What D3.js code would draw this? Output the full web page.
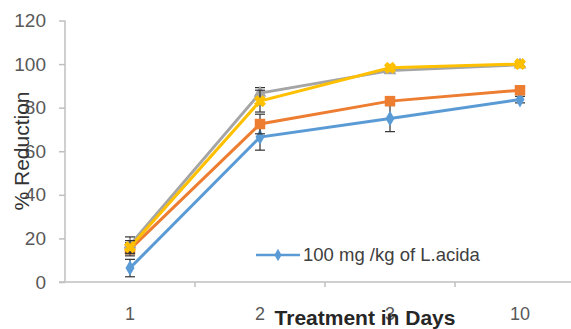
<!DOCTYPE html>
<html>
  <head>
    <meta charset="UTF-8" />
    <script src="https://d3js.org/d3.v7.min.js"></script>
    <style>
      body { margin: 0; background: #fff; }
    </style>
  </head>
  <body>
    <div id="chart"></div>
    <script>
      // data
      var days = ["1", "2", "3", "10"];
      var seriesNames = ["100 mg /kg of L.acida", "200 mg /kg of L.acida", "400 mg /kg of L.acida", "Standard"];
      var blueValues = [6.4, 66.5, 75, 83.7];
      var blueErrors = [4, 6, 6, 1.5];
      var orangeValues = [15, 72.5, 83, 88];
      var orangeErrors = [3, 4.5, 1, 1];
      var grayValues = [17, 86.7, 97, 99.7];
      var grayErrors = [3.7, 2.5, 1, 1];
      var yellowValues = [16, 83, 98.3, 100];
      var yellowErrors = [3, 5, 1, 1];
      var yTicks = [0, 20, 40, 60, 80, 100, 120];

      var width = 571, height = 329;
      var colors = ["#5b9bd5", "#ed7d31", "#a5a5a5", "#ffc000"];
      var shapes = [d3.symbolDiamond, d3.symbolSquare, d3.symbolTriangle, d3.symbolCross];

      var series = [
        { name: seriesNames[0], values: blueValues, errors: blueErrors },
        { name: seriesNames[1], values: orangeValues, errors: orangeErrors },
        { name: seriesNames[2], values: grayValues, errors: grayErrors },
        { name: seriesNames[3], values: yellowValues, errors: yellowErrors }
      ];

      var svg = d3.select("#chart")
        .append("svg")
        .attr("width", width)
        .attr("height", height)
        .style("font-family", "'Liberation Sans', Arial, sans-serif");

      var x = d3.scaleBand()
        .domain(days)
        .range([65, 585]);

      var y = d3.scaleLinear()
        .domain([0, 120])
        .range([282, 20.5]);

      // y axis
      var yAxis = svg.append("g")
        .attr("transform", "translate(65,0)")
        .call(d3.axisLeft(y).tickValues(yTicks).tickSize(6).tickPadding(13));
      yAxis.selectAll("line, path").attr("stroke", "#bfbfbf").attr("stroke-width", 1.5);
      yAxis.select(".domain").attr("d", "M0," + y(120) + "V" + y(0));
      yAxis.selectAll("text")
        .attr("fill", "#595959")
        .style("font-size", "19px");

      // x axis: ticks sit on category boundaries
      var xAxis = svg.append("g")
        .attr("transform", "translate(0," + y(0) + ")");
      xAxis.append("line")
        .attr("x1", 59).attr("x2", width)
        .attr("stroke", "#bfbfbf").attr("stroke-width", 1.5);
      xAxis.selectAll(".xtick")
        .data(days.slice(1))
        .enter()
        .append("line")
        .attr("x1", function(d) { return x(d); })
        .attr("x2", function(d) { return x(d); })
        .attr("y1", 0).attr("y2", 5)
        .attr("stroke", "#bfbfbf").attr("stroke-width", 1.5);
      xAxis.selectAll(".xlabel")
        .data(days)
        .enter()
        .append("text")
        .attr("x", function(d) { return x(d) + x.bandwidth() / 2; })
        .attr("y", 38)
        .attr("text-anchor", "middle")
        .attr("fill", "#595959")
        .style("font-size", "18px")
        .text(function(d) { return d; });

      var line = d3.line()
        .x(function(d, i) { return x(days[i]) + x.bandwidth() / 2; })
        .y(function(d) { return y(d); });

      series.forEach(function(s, k) {
        var g = svg.append("g");

        g.append("path")
          .datum(s.values)
          .attr("d", line)
          .attr("fill", "none")
          .attr("stroke", colors[k])
          .attr("stroke-width", 3);

        // error bars
        var eb = g.selectAll(".err")
          .data(s.values)
          .enter()
          .append("g")
          .attr("transform", function(d, i) {
            return "translate(" + (x(days[i]) + x.bandwidth() / 2) + ",0)";
          });
        eb.append("line")
          .attr("y1", function(d, i) { return y(d - s.errors[i]); })
          .attr("y2", function(d, i) { return y(d + s.errors[i]); })
          .attr("stroke", "#333").attr("stroke-width", 1.2);
        eb.append("line")
          .attr("x1", -5).attr("x2", 5)
          .attr("y1", function(d, i) { return y(d - s.errors[i]); })
          .attr("y2", function(d, i) { return y(d - s.errors[i]); })
          .attr("stroke", "#333").attr("stroke-width", 1.2);
        eb.append("line")
          .attr("x1", -5).attr("x2", 5)
          .attr("y1", function(d, i) { return y(d + s.errors[i]); })
          .attr("y2", function(d, i) { return y(d + s.errors[i]); })
          .attr("stroke", "#333").attr("stroke-width", 1.2);

        // markers
        g.selectAll(".mark")
          .data(s.values)
          .enter()
          .append("path")
          .attr("transform", function(d, i) {
            var r = k == 3 ? 45 : 0;
            return "translate(" + (x(days[i]) + x.bandwidth() / 2) + "," + y(d) + ")rotate(" + r + ")";
          })
          .attr("d", d3.symbol().type(shapes[k]).size(k == 1 ? 110 : 70))
          .attr("fill", colors[k])
          .attr("stroke", k == 3 ? colors[k] : "none");
      });

      // legend (only the first entry shows in the picture)
      var legend = svg.append("g")
        .attr("transform", "translate(256,255)");
      legend.append("line")
        .attr("x1", 0).attr("x2", 44)
        .attr("stroke", colors[0]).attr("stroke-width", 2.5);
      legend.append("path")
        .attr("transform", "translate(22,0)")
        .attr("d", d3.symbol().type(d3.symbolDiamond).size(45))
        .attr("fill", colors[0]);
      legend.append("text")
        .attr("x", 47)
        .attr("y", 6)
        .attr("fill", "#404040")
        .style("font-size", "18.5px")
        .text(series[0].name);

      // axis titles
      svg.append("text")
        .attr("transform", "translate(29,151)rotate(-90)")
        .attr("text-anchor", "middle")
        .attr("fill", "#333")
        .style("font-size", "21px")
        .text("% Reduction");

      svg.append("text")
        .attr("x", 365)
        .attr("y", 325)
        .attr("text-anchor", "middle")
        .attr("fill", "#262626")
        .style("font-size", "21px")
        .style("font-weight", "bold")
        .text("Treatment in Days");
    </script>
  </body>
</html>
